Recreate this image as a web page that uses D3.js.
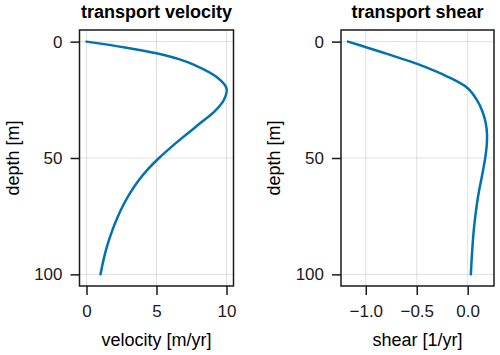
<!DOCTYPE html>
<html>
<head>
<meta charset="utf-8">
<script src="https://cdn.jsdelivr.net/npm/d3@7"></script>
<style>
  body { margin: 0; background: #fff; }
  svg { display: block; font-family: "Liberation Sans", Arial, sans-serif; }
</style>
</head>
<body>
<div id="chart"></div>
<script>
// depth profile
const depth = [0, 2.5, 5, 7.5, 10, 15, 20, 25, 30, 35, 40, 45, 50, 55, 60, 65, 70, 75, 80, 85, 90, 95, 100];
const velocity = [0, 2.75, 5.0, 6.6, 7.7, 9.25, 10.0, 9.82, 9.15, 8.13, 7.11, 6.11, 5.18, 4.36, 3.68, 3.12, 2.65, 2.25, 1.91, 1.62, 1.37, 1.17, 1.0];
const shear = [-1.175, -0.99, -0.81, -0.635, -0.47, -0.2, 0.0, 0.09, 0.145, 0.177, 0.19, 0.186, 0.172, 0.152, 0.13, 0.108, 0.09, 0.075, 0.062, 0.052, 0.044, 0.037, 0.031];

const depthTicks = [0, 50, 100];
const velocityTicks = [0, 5, 10];
const shearTicks = [-1.0, -0.5, 0.0];

const width = 500, height = 355;
const plotTop = 30, plotBottom = 286;
const lineColor = "#0072b2";

const svg = d3.select("#chart")
    .append("svg")
    .attr("width", width)
    .attr("height", height);

const panels = [
    {title: "transport velocity", xlabel: "velocity [m/yr]", values: velocity, ticks: velocityTicks,
        fmt: d3.format("d"), left: 79.5, right: 233.5, ylabelX: 13},
    {title: "transport shear", xlabel: "shear [1/yr]", values: shear, ticks: shearTicks,
        fmt: d => d3.format(".1f")(d).replace("-", "\u2212"), left: 341, right: 494, ylabelX: 274}
];

const yScale = d3.scaleLinear()
    .domain([-5, 105])
    .range([plotTop, plotBottom]);

panels.forEach(p => {
    const [lo, hi] = d3.extent(p.values);
    const pad = (hi - lo) * 0.05;
    const xScale = d3.scaleLinear()
        .domain([lo - pad, hi + pad])
        .range([p.left, p.right]);

    const g = svg.append("g");

    // grid
    g.selectAll("line.gx")
        .data(p.ticks)
        .enter().append("line")
        .attr("x1", d => xScale(d)).attr("x2", d => xScale(d))
        .attr("y1", plotTop).attr("y2", plotBottom)
        .attr("stroke", "#000").attr("stroke-opacity", 0.12).attr("stroke-width", 1);
    g.selectAll("line.gy")
        .data(depthTicks)
        .enter().append("line")
        .attr("x1", p.left).attr("x2", p.right)
        .attr("y1", d => yScale(d)).attr("y2", d => yScale(d))
        .attr("stroke", "#000").attr("stroke-opacity", 0.12).attr("stroke-width", 1);

    // curve
    const line = d3.line()
        .x((d, i) => xScale(p.values[i]))
        .y(d => yScale(d))
        .curve(d3.curveCatmullRom.alpha(0.5));
    g.append("path")
        .datum(depth)
        .attr("d", line)
        .attr("fill", "none")
        .attr("stroke", lineColor)
        .attr("stroke-width", 2.5)
        .attr("stroke-linecap", "round");

    // axes
    const xAxis = d3.axisBottom(xScale).tickValues(p.ticks).tickFormat(p.fmt)
        .tickSizeInner(9).tickSizeOuter(0).tickPadding(10);
    const yAxis = d3.axisLeft(yScale).tickValues(depthTicks)
        .tickSizeInner(9).tickSizeOuter(0).tickPadding(8);

    const xa = g.append("g")
        .attr("transform", `translate(0,${plotBottom})`)
        .call(xAxis);
    const ya = g.append("g")
        .attr("transform", `translate(${p.left},0)`)
        .call(yAxis);
    [xa, ya].forEach(a => {
        a.select(".domain").remove();
        a.selectAll(".tick line").attr("stroke", "#1a1a1a").attr("stroke-width", 1.5);
        a.selectAll(".tick text").attr("fill", "#1a1a1a").style("font-size", "17px");
    });

    // frame
    g.append("rect")
        .attr("x", p.left).attr("y", plotTop)
        .attr("width", p.right - p.left).attr("height", plotBottom - plotTop)
        .attr("fill", "none").attr("stroke", "#1a1a1a").attr("stroke-width", 1.5);

    // labels
    g.append("text")
        .attr("x", (p.left + p.right) / 2).attr("y", 18)
        .attr("text-anchor", "middle")
        .style("font-size", "18px").style("font-weight", "bold")
        .text(p.title);
    g.append("text")
        .attr("x", (p.left + p.right) / 2).attr("y", 346)
        .attr("text-anchor", "middle")
        .style("font-size", "18px")
        .text(p.xlabel);
    g.append("text")
        .attr("transform", `translate(${p.ylabelX + 6},${(plotTop + plotBottom) / 2}) rotate(-90)`)
        .attr("text-anchor", "middle")
        .style("font-size", "18px")
        .text("depth [m]");
});
</script>
</body>
</html>
